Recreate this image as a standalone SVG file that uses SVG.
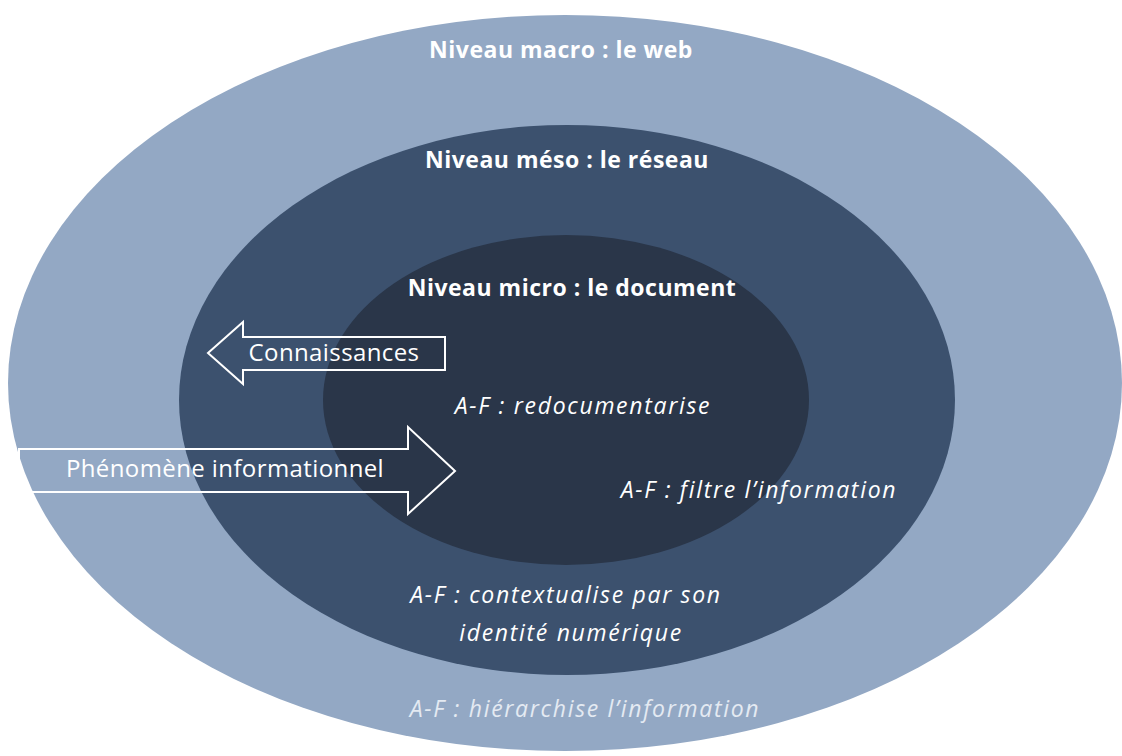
<svg xmlns="http://www.w3.org/2000/svg" width="1122" height="756" viewBox="0 0 1122 756">
<style>
.t{font-family:"Open Sans","Liberation Sans",sans-serif;fill:#ffffff}
.b{font-weight:bold;font-size:23px;letter-spacing:0.5px}
.r{font-size:24px;letter-spacing:0.4px}
.i{font-style:italic;font-size:23px;letter-spacing:1.7px}
.arrow{fill:none;stroke:#ffffff;stroke-width:2;stroke-linejoin:miter}
</style>
<rect width="1122" height="756" fill="#ffffff"/>
<g id="macro">
<ellipse cx="565" cy="383" rx="557" ry="368" fill="#93a8c4"/>
<text class="t b" x="561" y="58" text-anchor="middle">Niveau macro : le web</text>
<text class="t i" x="585" y="717" text-anchor="middle" style="fill:#e4eaf2">A-F : hiérarchise l’information</text>
</g>
<g id="meso">
<ellipse cx="567" cy="400" rx="388" ry="275" fill="#3c516e"/>
<text class="t b" x="567" y="168" text-anchor="middle">Niveau méso : le réseau</text>
<text class="t i" x="566" y="603" text-anchor="middle">A-F : contextualise par son</text>
<text class="t i" x="571" y="641" text-anchor="middle">identité numérique</text>
</g>
<g id="micro">
<ellipse cx="566" cy="400" rx="243" ry="165" fill="#2a3649"/>
<text class="t b" x="572" y="296" text-anchor="middle">Niveau micro : le document</text>
<text class="t i" x="583" y="414" text-anchor="middle">A-F : redocumentarise</text>
<text class="t i" x="759" y="498" text-anchor="middle">A-F : filtre l’information</text>
</g>
<g id="connectors">
<g id="connaissances">
<path class="arrow" d="M208,353 L243,322 L243,337 L445,337 L445,370 L243,370 L243,384 Z"/>
<text class="t r" x="334" y="361" text-anchor="middle">Connaissances</text>
</g>
<g id="phenomene">
<path class="arrow" d="M19,449 L408,449 L408,427 L455,471 L408,514 L408,492 L19,492 Z"/>
<text class="t r" x="225" y="477" text-anchor="middle">Phénomène informationnel</text>
</g>
</g>
</svg>
